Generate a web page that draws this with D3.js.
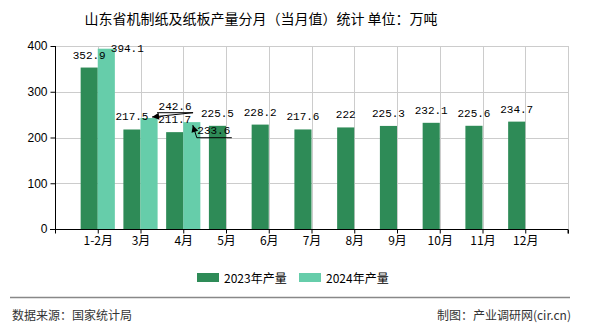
<!DOCTYPE html>
<html><head><meta charset="utf-8">
<script src="https://cdn.jsdelivr.net/npm/d3@7"></script>
<style>
html,body{margin:0;padding:0;background:#fff;}
svg{display:block;}
text{font-family:"Noto Sans CJK SC","Liberation Sans",sans-serif;}
</style></head>
<body><svg id="c" width="590" height="330"></svg>
<script>
const categories = ["1-2月","3月","4月","5月","6月","7月","8月","9月","10月","11月","12月"];
const values2023 = [352.9,217.5,211.7,225.5,228.2,217.6,222,225.3,232.1,225.6,234.7];
const values2024 = [394.1,242.6,233.6];
const seriesNames = ["2023年产量","2024年产量"];
const yTicks = [0,100,200,300,400];
const titleText = "山东省机制纸及纸板产量分月（当月值）统计  单位：万吨";
const sourceText = "数据来源：国家统计局";
const creditText = "制图：产业调研网(cir.cn)";

const colors = ["#2e8b57","#66cdaa"];
const svg = d3.select("#c");
const L = 55, R = 568, T = 46, B = 229;
const x = d3.scaleLinear().domain([0, categories.length + 1]).range([L, R]);
const y = d3.scaleLinear().domain([0, 400]).range([B, T]);
const bw = 0.4; // bar width in x units

// gridlines
const g = svg.append("g");
g.selectAll(".hg").data(yTicks.filter(d => d > 0)).join("line")
  .attr("x1", L).attr("x2", R).attr("y1", d => Math.round(y(d)) + 0.5).attr("y2", d => Math.round(y(d)) + 0.5)
  .attr("stroke", "#cccccc").attr("stroke-width", 1);
const vt = d3.range(1, categories.length + 2);
g.selectAll(".vg").data(vt).join("line")
  .attr("x1", d => Math.round(x(d)) + 0.5).attr("x2", d => Math.round(x(d)) + 0.5)
  .attr("y1", T).attr("y2", B)
  .attr("stroke", "#cccccc").attr("stroke-width", 1);

// bars
const series = [values2023, values2024];
series.forEach((vals, si) => {
  svg.append("g").selectAll("rect").data(vals).join("rect")
    .attr("x", (d, i) => si === 0 ? x(i + 1 - bw) : x(i + 1))
    .attr("width", x(bw) - x(0))
    .attr("y", d => y(d))
    .attr("height", d => B - y(d))
    .attr("fill", colors[si]);
});

// axes
const xAxis = d3.axisBottom(x).tickValues(d3.range(0, categories.length + 2))
  .tickSize(4).tickFormat(d => (d >= 1 && d <= categories.length) ? categories[d - 1] : "");
const xg = svg.append("g").attr("transform", `translate(0,${B + 0.5})`).call(xAxis);
xg.select(".domain").attr("stroke", "#000");
xg.selectAll(".tick line").attr("stroke", "#000");
xg.selectAll(".tick text").attr("fill", "#000").style("font-size", "12px")
  .attr("y", 7).attr("dy", "0.71em");

const yAxis = d3.axisLeft(y).tickValues(yTicks).tickSize(5).tickPadding(3);
const yg = svg.append("g").attr("transform", `translate(${L + 0.5},0)`).call(yAxis);
yg.select(".domain").attr("stroke", "#000").attr("d", `M0,${T}V${B}`);
yg.selectAll(".tick line").attr("stroke", "#000");
yg.selectAll(".tick text").attr("fill", "#000").style("font-size", "12px")
  .style("font-family", "'Liberation Sans',sans-serif");
// extend x axis domain to the left to meet y tick
xg.select(".domain").attr("d", `M${L - 5},0H${R}V4`);

// value labels
const labelAdjust = {
  "1-0": {dx: 21, dy: 3},
  "1-1": {dx: 26, dy: -8, leader: [[8, -5.3], [44, -5.3]], tip: [3, -1]},
  "1-2": {dx: 22, dy: 12, leader: [[40, 15.6], [5, 15.6]], tip: [1, 3]}
};
svg.append("defs").append("marker").attr("id", "arr")
  .attr("viewBox", "0 0 10 10").attr("refX", 10).attr("refY", 5)
  .attr("markerWidth", 9).attr("markerHeight", 7).attr("orient", "auto")
  .attr("markerUnits", "userSpaceOnUse")
  .append("path").attr("d", "M0,0L10,5L0,10Z").attr("fill", "#000");
const lg = svg.append("g");
series.forEach((vals, si) => {
  vals.forEach((v, i) => {
    const cx = si === 0 ? x(i + 1 - bw / 2) : x(i + 1 + bw / 2);
    const top = y(v);
    const a = labelAdjust[`${si}-${i}`] || {dx: 0, dy: -9};
    lg.append("text").attr("x", cx + a.dx).attr("y", top + a.dy)
      .attr("text-anchor", "middle").attr("fill", "#000")
      .style("font-family", "'Liberation Mono','DejaVu Sans Mono',monospace")
      .style("font-size", "11px").text(v);
    if (a.leader) {
      const pts = a.leader.concat([a.tip]).map(p => [cx + p[0], top + p[1]]);
      lg.append("path").attr("d", d3.line()(pts)).attr("fill", "none")
        .attr("stroke", "#000").attr("stroke-width", 1).attr("marker-end", "url(#arr)");
    }
  });
});

// title
svg.append("text").attr("x", 261).attr("y", 24).attr("text-anchor", "middle")
  .style("font-size", "14px").attr("fill", "#000").text(titleText);

// legend
const lx = [197, 299];
seriesNames.forEach((n, i) => {
  svg.append("rect").attr("x", lx[i]).attr("y", 273).attr("width", 22).attr("height", 9).attr("fill", colors[i]);
  svg.append("text").attr("x", lx[i] + 27).attr("y", 282.5).style("font-size", "12px").attr("fill", "#000").text(n);
});

// footer
svg.append("line").attr("x1", 10).attr("x2", 570).attr("y1", 297.5).attr("y2", 297.5).attr("stroke", "#888").attr("stroke-width", 1.5);
svg.append("text").attr("x", 12).attr("y", 320).style("font-size", "12px").attr("fill", "#333").text(sourceText);
svg.append("text").attr("x", 571).attr("y", 320).attr("text-anchor", "end").style("font-size", "12px").attr("fill", "#333").text(creditText);
</script></body></html>
